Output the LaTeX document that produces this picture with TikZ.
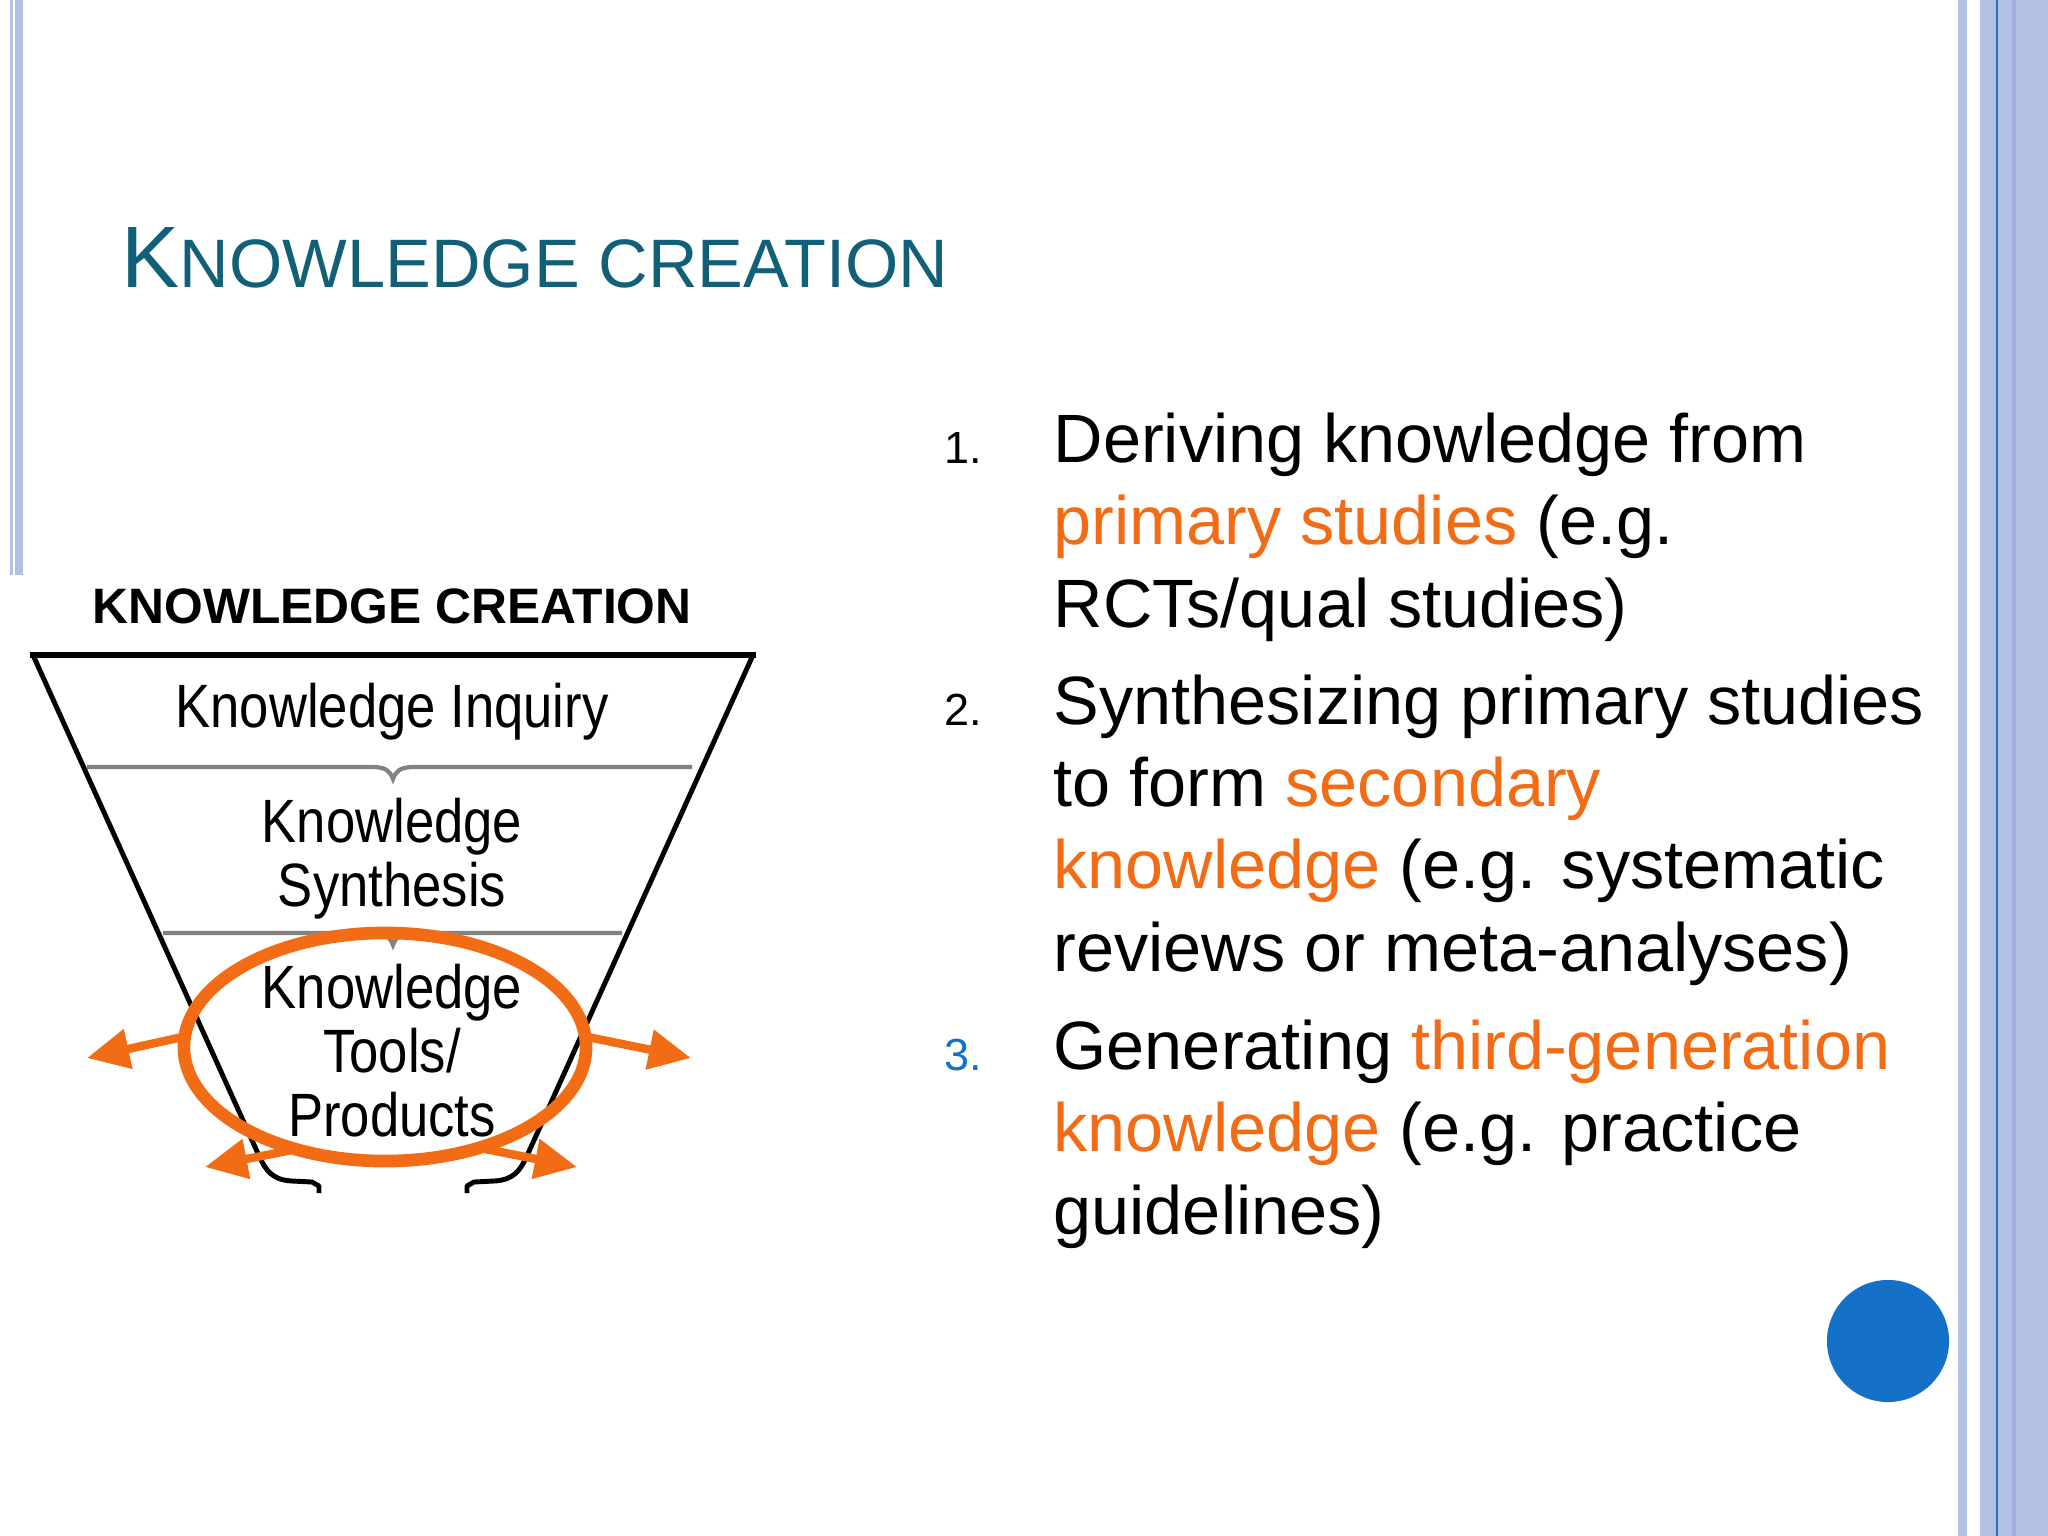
\documentclass[tikz,border=0pt]{standalone}
\usepackage{fontspec}
\setmainfont{Liberation Sans}
\newfontfamily\funnelfont[FakeStretch=0.86]{Liberation Sans}
\usetikzlibrary{arrows.meta,shapes.geometric}

\definecolor{titleteal}{RGB}{17,96,120}
\definecolor{hiorange}{RGB}{242,108,22}
\definecolor{dotblue}{RGB}{21,112,200}
\definecolor{rulegray}{RGB}{130,130,130}
\definecolor{barblue}{RGB}{179,193,229}
\definecolor{barmid}{RGB}{160,178,220}
\definecolor{barline}{RGB}{42,108,192}
\newcommand{\hi}[1]{\textcolor{hiorange}{#1}}

\tikzset{
	bodytext/.style={anchor=base west, align=left, inner sep=0pt, font=\fontsize{19.45pt}{23.33pt}\selectfont},
	itemnum/.style={anchor=base west, inner sep=0pt, font=\fontsize{12.8pt}{14pt}\selectfont},
	layertext/.style={anchor=base, align=center, inner sep=0pt, font=\funnelfont\fontsize{17.4pt}{18.2pt}\selectfont},
	funnelline/.style={line width=1.4pt, line join=round},
	separator/.style={rulegray, line width=1.2pt},
	burst/.style={hiorange, line width=2.4pt, -{Triangle[length=12pt,width=11pt]}},
}

\begin{document}
\begin{tikzpicture}[x=0.01cm, y=-0.01cm]
	\useasboundingbox (0,0) rectangle (2048,1536);
	% side bars
	\fill[barblue] (10,0) rectangle (13,575);
	\fill[barblue] (15,0) rectangle (23,575);
	\fill[barblue] (1958,0) rectangle (1967,1536);
	\fill[barblue] (1980,0) rectangle (2048,1536);
	\fill[barmid] (2012,0) rectangle (2016,1536);
	\fill[barline] (1996,0) rectangle (1998,1536);
	
	\node[anchor=base west, inner sep=0pt, text=titleteal] (title) at (121,287) {\fontsize{24.8pt}{29pt}\selectfont K\fontsize{19.5pt}{23pt}\selectfont NOWLEDGE CREATION};
	
	% funnel
	\node[anchor=base, inner sep=0pt, font=\bfseries\fontsize{14.15pt}{16pt}\selectfont] (funneltitle) at (392,623) {KNOWLEDGE CREATION};
	\draw[funnelline] (319,1193) -- (319,1186) -- (312,1182) -- (292,1181) .. controls (272,1180) and (266,1170) .. (260,1158) -- (33,655) -- (753,655) -- (526,1158) .. controls (520,1170) and (514,1180) .. (494,1181) -- (474,1182) -- (467,1186) -- (467,1193);
	\draw[line width=1.9pt] (30,655) -- (756,655);
	\draw[separator] (87,767) -- (372,767) .. controls (386,767) and (390,771) .. (393,779) .. controls (396,771) and (400,767) .. (414,767) -- (692,767);
	\draw[separator] (163,933) -- (372,933) .. controls (386,933) and (390,937) .. (393,945) .. controls (396,937) and (400,933) .. (414,933) -- (622,933);
	\node[layertext] (inquiry) at (392,727) {Knowledge Inquiry};
	\node[layertext] (synthesis) at (392,906) {Knowledge\\Synthesis};
	\node[layertext] (tools) at (392,1136) {Knowledge\\Tools/\\Products};
	
	\node[draw=hiorange, line width=3.6pt, ellipse, minimum width=4.02cm, minimum height=2.28cm, inner sep=0pt, outer sep=0pt] (ring) at (385,1047) {};
	\coordinate (tipL) at (87,1058);
	\coordinate (tipR) at (691,1058);
	\coordinate (tipBL) at (205,1167);
	\coordinate (tipBR) at (577,1167);
	\draw[burst] (ring.177) -- (tipL);
	\draw[burst] (ring.3) -- (tipR);
	\draw[burst] (ring.229) -- (tipBL);
	\draw[burst] (ring.313) -- (tipBR);
	
	% list
	\node[itemnum] (num1) at (944,463) {1.};
	\node[bodytext] (item1) at (1053,627) {Deriving knowledge from\\\hi{primary studies} (e.g.\\RCTs/qual studies)};
	\node[itemnum] (num2) at (944,725) {2.};
	\node[bodytext] (item2) at (1053,971) {Synthesizing primary studies\\to form \hi{secondary}\\\hi{knowledge} (e.g. systematic\\reviews or meta-analyses)};
	\node[itemnum, text=dotblue] (num3) at (944,1070) {3.};
	\node[bodytext] (item3) at (1053,1234) {Generating \hi{third-generation}\\\hi{knowledge} (e.g. practice\\guidelines)};
	
	\node[circle, fill=dotblue, minimum size=1.22cm, inner sep=0pt] (dot) at (1888,1341) {};
\end{tikzpicture}
\end{document}
